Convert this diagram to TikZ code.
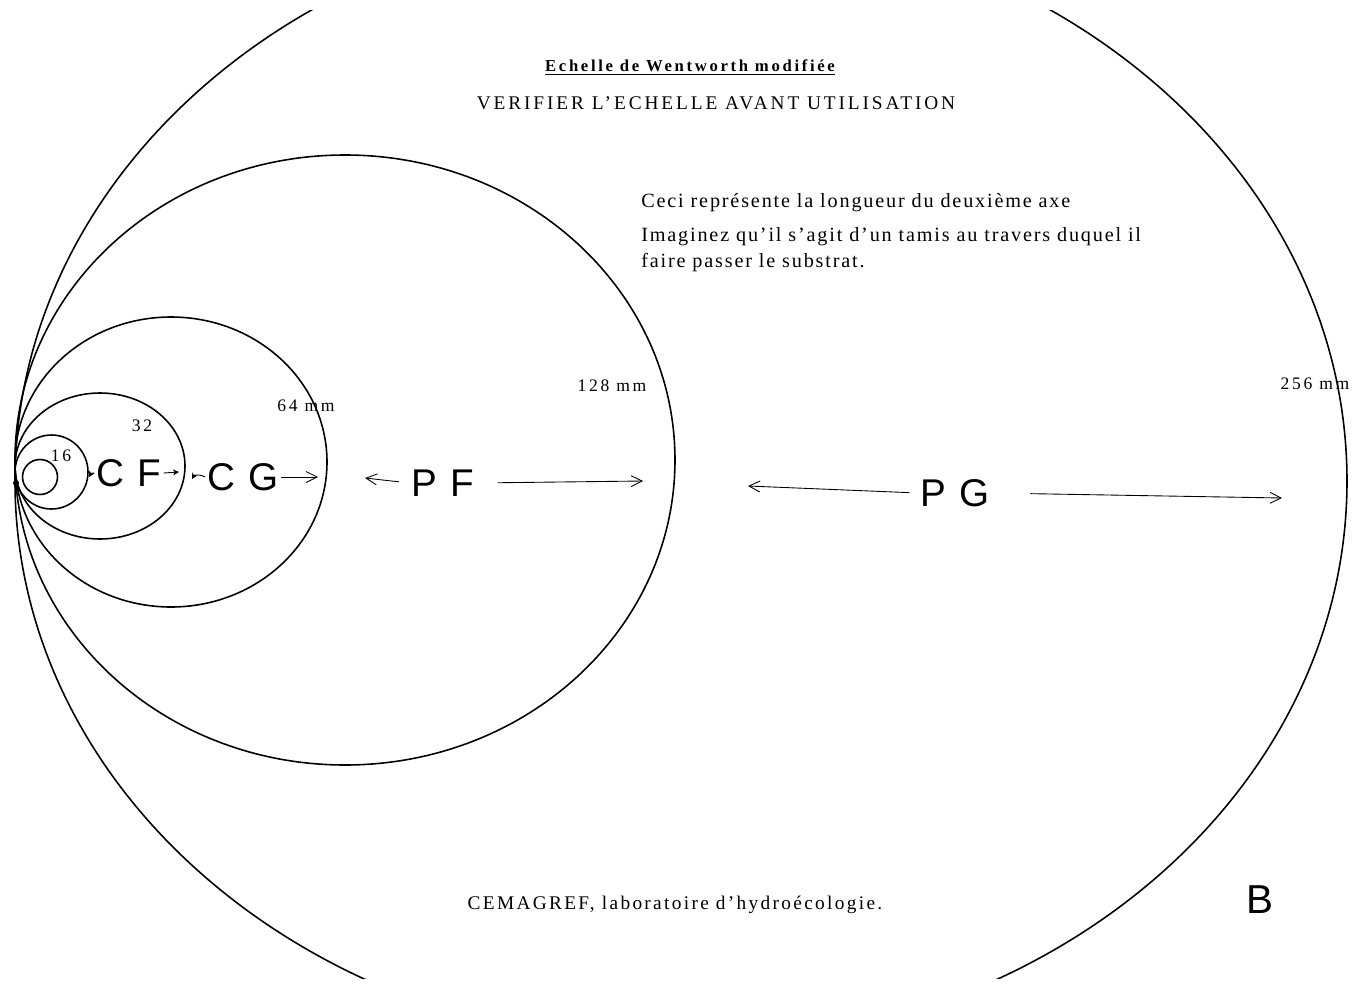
\documentclass[tikz,border=0pt]{standalone}
\usepackage{fontspec}
\setmainfont{Liberation Serif}
\setsansfont{Liberation Sans}
\usepackage{tikz}
\usetikzlibrary{arrows.meta, positioning}

\begin{document}
\begin{tikzpicture}[
    x=0.02cm, y=-0.02cm,
    ring/.style={draw, line width=0.9pt},
    heading/.style={font=\fontsize{9.5}{11}\selectfont\bfseries\addfontfeature{LetterSpace=16}},
    warning/.style={font=\fontsize{11}{13}\selectfont\addfontfeature{LetterSpace=15}},
    footer/.style={font=\fontsize{11}{13}\selectfont\addfontfeature{LetterSpace=12}},
    note/.style={font=\fontsize{11.5}{13}\selectfont\addfontfeature{LetterSpace=9}, anchor=west, inner sep=0pt},
    sizelabel/.style={font=\fontsize{10}{12}\selectfont\addfontfeature{LetterSpace=15}, inner sep=1pt},
    classlabel/.style={font=\sffamily\fontsize{22}{24}\selectfont\addfontfeature{LetterSpace=35}, inner sep=1pt},
    rangearrow/.style={-{Straight Barb[length=2.2mm, width=2.2mm]}, line width=0.5pt},
    hookarrow/.style={-{Stealth[length=1.2mm, width=1.2mm]}, line width=0.5pt}
]
\clip (0,0) rectangle (1357,984);
\fill[white] (0,0) rectangle (1357,984);

% Nested sieve circles, all touching at the left
\draw[ring] (40,477) ellipse [x radius=17.5, y radius=17.5];
\draw[ring] (51.5,472) ellipse [x radius=36.5, y radius=37];
\draw[ring] (100,466) ellipse [x radius=85, y radius=73];
\draw[ring] (171,462) ellipse [x radius=156, y radius=145];
\draw[ring] (345,460) ellipse [x radius=330, y radius=305];
\begin{scope}
  \clip (0,10) rectangle (1357,978);
  \draw[ring] (681,481) ellipse [x radius=666, y radius=566];
\end{scope}
\fill (16,483) circle [radius=3];

% Titles
\node[heading] (title) at (690,68) {\underline{Echelle de Wentworth modifiée}};
\node[warning] (check) at (716,103) {VERIFIER L'ECHELLE AVANT UTILISATION};

\node[note] (para1) at (641,203) {Ceci représente la longueur du deuxième axe};
\node[note] (para2) at (641,237) {Imaginez qu'il s'agit d'un tamis au travers duquel il};
\node[note] (para3) at (641,263) {faire passer le substrat.};

% Size labels
\node[sizelabel] (s16) at (61,456) {16};
\node[sizelabel] (s32) at (142,426) {32};
\node[sizelabel] (s64) at (306,406) {64 mm};
\node[sizelabel] (s128) at (612,386) {128 mm};
\node[sizelabel] (s256) at (1315,384) {256 mm};

% Class labels
\node[classlabel] (cf) at (129,473) {CF};
\node[classlabel] (cg) at (243,477) {CG};
\node[classlabel] (pf) at (443,483) {PF};
\node[classlabel] (pg) at (955,493) {PG};

\coordinate (cfL) at (89,477);
\coordinate (cfR) at (179,472);
\coordinate (cgL) at (192,479);
\coordinate (cgR) at (318,477);
\coordinate (pfL) at (365,478);
\coordinate (pfR) at (643,481);
\coordinate (pgL) at (748,486);
\coordinate (pgR) at (1282,498);

\draw[hookarrow] (cf.west) to[out=150, in=60] (cfL);
\draw[hookarrow] (cf.east) -- (cfR);
\draw[hookarrow] (cg.west) to[out=150, in=60] (cgL);
\draw[rangearrow] (cg.east) -- (cgR);
\draw[rangearrow, shorten <=6pt] (pf.west) -- (pfL);
\draw[rangearrow, shorten <=12pt] (pf.east) -- (pfR);
\draw[rangearrow, shorten <=5pt] (pg.west) -- (pgL);
\draw[rangearrow, shorten <=22pt] (pg.east) -- (pgR);

% Footer
\node[footer] (lab) at (675,905) {CEMAGREF, laboratoire d'hydroécologie.};
\node[font=\sffamily\fontsize{23}{25}\selectfont, inner sep=1pt] (plate) at (1260,900) {B};

\end{tikzpicture}
\end{document}
